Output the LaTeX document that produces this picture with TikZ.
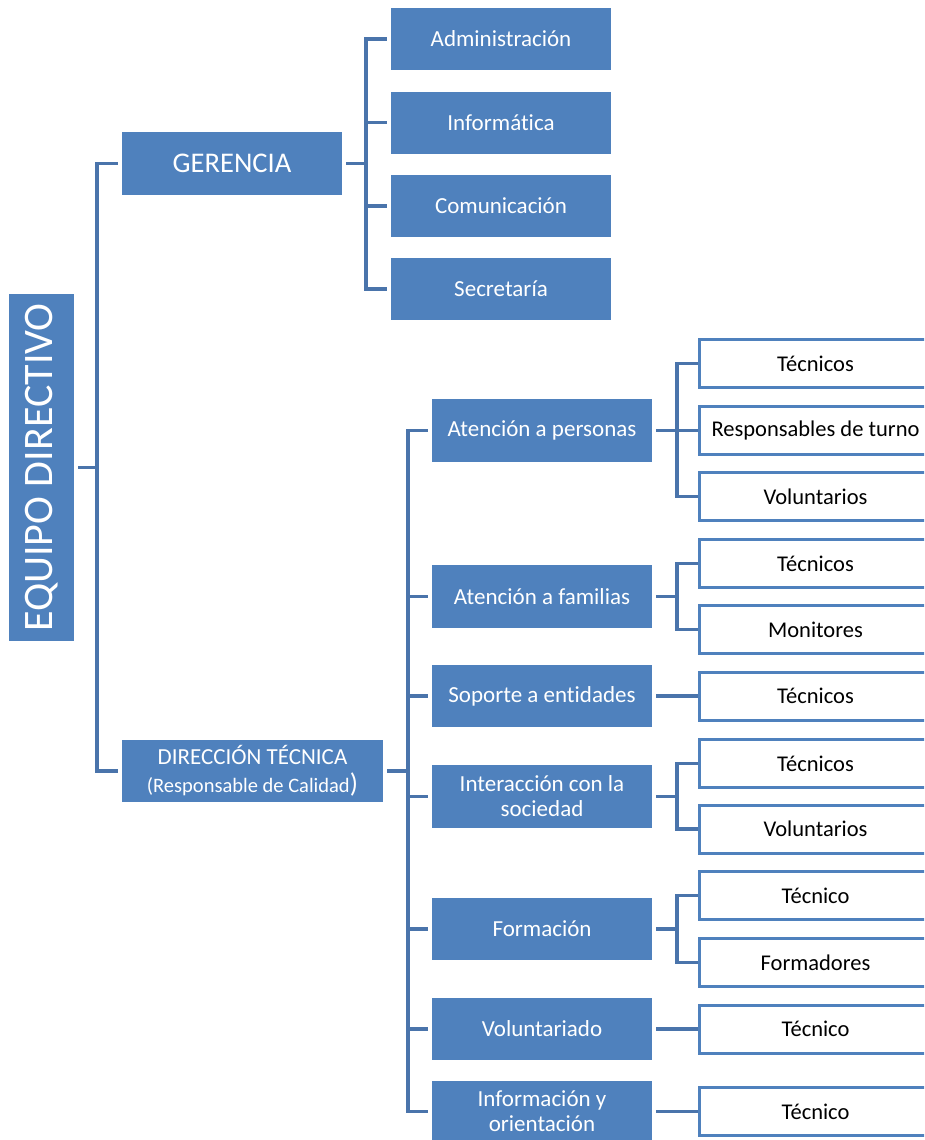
\documentclass[tikz,border=0pt]{standalone}
\usepackage{fontspec}
\setmainfont{Carlito}[Ligatures={NoCommon}]
\definecolor{boxblue}{HTML}{4F81BD}
\definecolor{lineblue}{HTML}{4A74AB}
\begin{document}
\begin{tikzpicture}[x=1pt,y=-1pt,
  bbox/.style={fill=boxblue, text=white, minimum width=220pt, minimum height=62pt, inner sep=0pt, align=center, font=\fontsize{23}{25}\selectfont},
  wbox/.style={draw=boxblue, line width=3pt, fill=white, text=black, minimum width=232pt, minimum height=48pt, inner sep=0pt, font=\fontsize{22.5}{25}\selectfont},
  conn/.style={draw=lineblue, line width=3.5pt, line join=miter}]
\clip (0,0) rectangle (924,1140);
\fill[white] (0,0) rectangle (924,1140);
% bus coordinates
\coordinate (tbus) at (97,0);
\coordinate (gbus) at (366,0);
\coordinate (dbus) at (408,0);
\coordinate (sbus) at (677,0);
% top level
\node[bbox, rotate=90, minimum width=347pt, minimum height=65pt, font=\fontsize{42}{46}\selectfont] (eq) at (41.5,467.5) {EQUIPO DIRECTIVO};
\node[bbox, minimum height=63pt, font=\fontsize{28.5}{30}\selectfont] (ger) at (232,163.5) {GERENCIA};
\node[bbox, minimum width=261pt, font=\fontsize{23}{25}\selectfont] (dt) at (252.5,771) {DIRECCIÓN TÉCNICA\\[3pt]{\fontsize{20.5}{22}\selectfont(Responsable de Calidad}{\fontsize{27}{28}\selectfont)}};
% gerencia children
\node[bbox] (adm) at (501,39) {Administración};
\node[bbox] (inf) at (501,122.5) {Informática};
\node[bbox] (com) at (501,206) {Comunicación};
\node[bbox] (sec) at (501,289) {Secretaría};
% direccion children
\node[bbox, minimum height=63pt] (ap) at (542,430.5) {Atención a personas};
\node[bbox, minimum height=63pt] (af) at (542,596.5) {Atención a familias};
\node[bbox] (se) at (542,696) {Soporte a entidades};
\node[bbox, minimum height=63pt] (is) at (542,796.5) {Interacción con la\\sociedad};
\node[bbox] (fo) at (542,929) {Formación};
\node[bbox] (vo) at (542,1029) {Voluntariado};
\node[bbox] (io) at (542,1111.5) {Información y\\orientación};
% white boxes
\node[wbox] (w1) at (815.5,363.5) {Técnicos};
\node[wbox] (w2) at (815.5,430.5) {Responsables de turno};
\node[wbox] (w3) at (815.5,496.5) {Voluntarios};
\node[wbox] (w4) at (815.5,563.5) {Técnicos};
\node[wbox] (w5) at (815.5,629.5) {Monitores};
\node[wbox] (w6) at (815.5,696) {Técnicos};
\node[wbox] (w7) at (815.5,763.5) {Técnicos};
\node[wbox] (w8) at (815.5,829) {Voluntarios};
\node[wbox] (w9) at (815.5,895.5) {Técnico};
\node[wbox] (w10) at (815.5,962.5) {Formadores};
\node[wbox] (w11) at (815.5,1029) {Técnico};
\node[wbox] (w12) at (815.5,1111.5) {Técnico};
% connectors: top level
\draw[conn] ([xshift=4pt]eq.south) -- (tbus |- eq.south);
\draw[conn] ([xshift=-4pt]ger.west) -| (tbus |- dt.west) -- ([xshift=-4pt]dt.west);
% gerencia
\draw[conn] ([xshift=4pt]ger.east) -- (gbus |- ger.east);
\draw[conn] ([xshift=-4pt]adm.west) -| (gbus |- sec.west) -- ([xshift=-4pt]sec.west);
\draw[conn] (gbus |- inf.west) -- ([xshift=-4pt]inf.west);
\draw[conn] (gbus |- com.west) -- ([xshift=-4pt]com.west);
% direccion
\draw[conn] ([xshift=4pt]dt.east) -- (dbus |- dt.east);
\draw[conn] ([xshift=-4pt]ap.west) -| (dbus |- io.west) -- ([xshift=-4pt]io.west);
\draw[conn] (dbus |- af.west) -- ([xshift=-4pt]af.west);
\draw[conn] (dbus |- se.west) -- ([xshift=-4pt]se.west);
\draw[conn] (dbus |- is.west) -- ([xshift=-4pt]is.west);
\draw[conn] (dbus |- fo.west) -- ([xshift=-4pt]fo.west);
\draw[conn] (dbus |- vo.west) -- ([xshift=-4pt]vo.west);
% sub-branches
\draw[conn] ([xshift=4pt]ap.east) -- (sbus |- ap.east);
\draw[conn] (w1.west) -| (sbus |- w3.west) -- (w3.west);
\draw[conn] (sbus |- w2.west) -- (w2.west);
\draw[conn] ([xshift=4pt]af.east) -- (sbus |- af.east);
\draw[conn] (w4.west) -| (sbus |- w5.west) -- (w5.west);
\draw[conn] ([xshift=4pt]se.east) -- (w6.west);
\draw[conn] ([xshift=4pt]is.east) -- (sbus |- is.east);
\draw[conn] (w7.west) -| (sbus |- w8.west) -- (w8.west);
\draw[conn] ([xshift=4pt]fo.east) -- (sbus |- fo.east);
\draw[conn] (w9.west) -| (sbus |- w10.west) -- (w10.west);
\draw[conn] ([xshift=4pt]vo.east) -- (w11.west);
\draw[conn] ([xshift=4pt]io.east) -- (w12.west);
\end{tikzpicture}
\end{document}
